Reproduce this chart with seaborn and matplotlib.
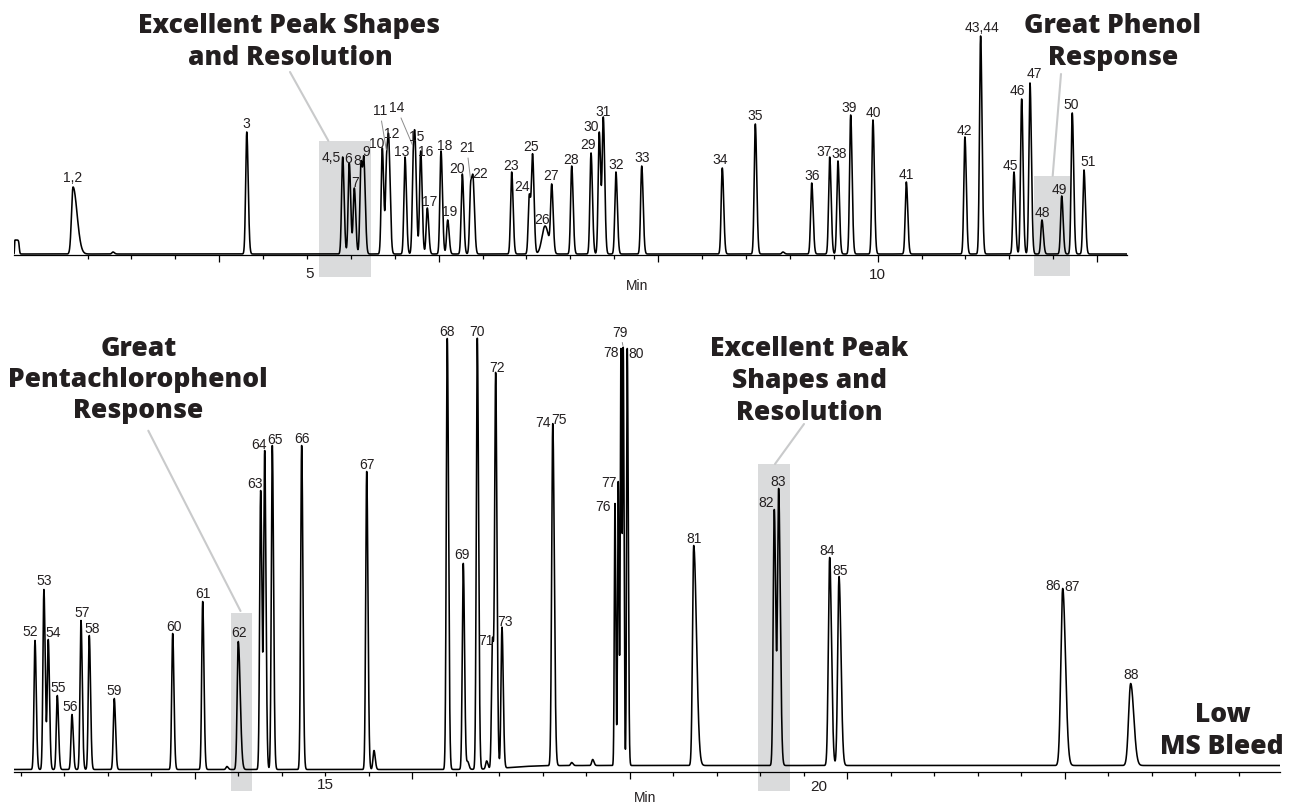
import numpy as np
import pandas as pd
import matplotlib.pyplot as plt
import seaborn as sns
from matplotlib.lines import Line2D
from matplotlib.patches import Rectangle

# ---- data: peaks of the first segment (retention time in min, apex height) ----
top_names = ['1,2', '3', '4,5', '6', '7', '8', '9', '10', '11', '12', '13', '14', '15', '16',
             '17', '18', '19', '20', '21', '22', '23', '24', '25', '26', '27', '28', '29', '30',
             '31', '32', '33', '34', '35', '36', '37', '38', '39', '40', '41', '42', '43,44',
             '45', '46', '47', '48', '49', '50', '51', '', '']
top_rt = [2.668, 4.251, 5.125, 5.185, 5.231, 5.292, 5.319, 5.486, 5.526, 5.547, 5.693, 5.769,
          5.787, 5.836, 5.896, 6.021, 6.082, 6.215, 6.292, 6.315, 6.665, 6.826, 6.856, 6.969,
          7.030, 7.212, 7.388, 7.463, 7.500, 7.615, 7.850, 8.584, 8.885, 9.399, 9.563, 9.638,
          9.754, 9.957, 10.261, 10.795, 10.938, 11.242, 11.312, 11.388, 11.497, 11.677, 11.773,
          11.880, 3.032, 9.137]
top_height = [67, 122, 97, 91, 66, 93, 96, 106, 102, 113, 97, 107, 112, 103, 46, 103, 34, 80,
              73, 75, 82, 60, 100, 28, 70, 88, 101, 122, 137, 82, 88, 86, 130, 71, 97, 93, 139,
              134, 72, 117, 218, 82, 155, 171, 34, 58, 141, 84, 2, 2]

# ---- data: peaks of the second segment ----
bot_names = ['52', '53', '54', '55', '56', '57', '58', '59', '60', '61', '62', '63', '64', '65',
             '66', '67', '68', '69', '70', '71', '72', '73', '74,75', '76', '77', '78', '79',
             '80', '81', '82', '83', '84', '85', '86,87', '88', '', '', '', '', '', '']
bot_rt = [12.529, 12.611, 12.651, 12.734, 12.869, 12.952, 13.028, 13.258, 13.795, 14.071,
          14.398, 14.604, 14.641, 14.711, 14.981, 15.579, 16.320, 16.467, 16.596, 16.736,
          16.765, 16.823, 17.290, 17.862, 17.892, 17.917, 17.938, 17.975, 18.586,
          19.327, 19.367, 19.836, 19.922, 21.979, 22.604,
          14.294, 15.646, 16.508, 16.682, 17.464, 17.657]
bot_height = [129, 180, 130, 74, 55, 149, 134, 71, 136, 168, 128, 279, 319, 324, 324, 298,
              431, 206, 431, 131, 396, 141, 342, 262, 284, 417, 418, 417, 220, 256, 277,
              208, 189, 177, 82, 3, 19, 8, 8, 3, 6]

# peak widths (sigma, min) and tailing, where they differ from the default
top_shape = {'1,2': (0.014, 2.6), '26': (0.028, 1.2)}
bot_shape = {'62': (0.010, 1.8), '76': (0.006, 1.2), '77': (0.006, 1.2), '78': (0.006, 1.2),
             '79': (0.006, 1.2), '80': (0.006, 1.5), '81': (0.011, 2.3), '82': (0.010, 1.3),
             '83': (0.010, 1.5), '84': (0.012, 1.4), '85': (0.012, 1.5), '86,87': (0.017, 1.5),
             '88': (0.019, 1.5), '74,75': (0.010, 1.4)}

# label offsets in pixels (dx, gap above apex); default is centred, 4 px above
top_off = {'1,2': (0, 6), '3': (0, 5), '4,5': (-11, -4), '6': (-1, 1), '7': (1, 2),
           '8': (-4, -3), '9': (2, 3), '10': (-6, 1), '11': (-7, 38), '12': (3, 4),
           '13': (-3, 2), '14': (-17, 36), '15': (1, 2), '16': (5, -4), '17': (2, 3),
           '18': (4, 2), '19': (2, 5), '20': (-5, 2), '21': (-4, 30), '22': (7, 2),
           '23': (-1, 3), '24': (-7, 4), '25': (-2, 4), '26': (-3, 3), '27': (-1, 5),
           '28': (-1, 3), '29': (-3, 5), '30': (-8, 2), '31': (0, 2), '33': (0, 5),
           '34': (-2, 5), '35': (0, 5), '37': (-6, 2), '38': (1, 4), '39': (-2, 4),
           '42': (0, 3), '43,44': (1, 5), '45': (-4, 3), '46': (-4, 5), '47': (4, 6),
           '49': (-2, 3), '50': (-1, 5), '51': (4, 5)}
bot_off = {'52': (-5, 5), '53': (0, 5), '54': (5, 3), '55': (1, 4), '56': (-2, 4), '57': (1, 4),
           '58': (3, 3), '60': (1, 3), '62': (1, 5), '63': (-6, 3), '64': (-6, 2), '65': (3, 2),
           '66': (0, 3), '67': (0, 3), '68': (0, 3), '69': (-1, 5), '70': (0, 3), '71': (-7, -6),
           '72': (1, 2), '73': (3, 2), '76': (-12, -6),
           '77': (-9, -4), '78': (-10, -7), '79': (-3, 12), '80': (9, -8), '82': (-8, 4),
           '83': (-1, 4), '84': (-3, 4), '85': (1, 3), '88': (0, 5)}
bot_split = {'86,87': [('86', -10, -1), ('87', 9, -2)],
             '74,75': [('74', -10, -2), ('75', 6, 1)]}
leaders = {'11', '14', '21', '79'}

W, H = 1289, 804
sns.set_theme(style='white')
plt.rcParams['font.family'] = ['Liberation Sans Narrow', 'Liberation Sans', 'DejaVu Sans']
HEAD = ['Open Sans', 'DejaVu Sans']
INK = '#231f20'
BOX = '#dadbdc'
LEAD = '#c9cacb'


def shape(t, rt, sig, tail):
    s = np.where(t < rt, sig, sig * tail)
    return np.exp(-0.5 * ((t - rt) / s) ** 2)


def chromatogram(t, names, rt, height, widths, sig0, tail0):
    rt = np.array(rt, float)
    h = np.array(height, float)
    sig = np.array([widths.get(n, (sig0, tail0))[0] for n in names])
    tail = np.array([widths.get(n, (sig0, tail0))[1] for n in names])
    A = np.array([[shape(ti, rj, sj, kj) for rj, sj, kj in zip(rt, sig, tail)] for ti in rt])
    amp = h.copy()
    for _ in range(300):
        amp = np.clip(amp + 0.5 * (h - A @ amp), 0, None)
    y = np.zeros_like(t)
    for a, r, s, k in zip(amp, rt, sig, tail):
        y += a * shape(t, r, s, k)
    return y


def sigm(x):
    return 1 / (1 + np.exp(-x))


def label_peaks(ax, names, rt, height, base, offsets, split):
    for n, r, h in zip(names, rt, height):
        if not n:
            continue
        y0 = base(np.array([r]))[0] + h
        items = split.get(n, [(n,) + offsets.get(n, (0, 4))])
        for txt, dx, dy in items:
            kw = {}
            if txt in leaders:
                kw['arrowprops'] = dict(arrowstyle='-', color='#8c8c8c', lw=0.7,
                                        shrinkA=0.5, shrinkB=1.5)
            ax.annotate(txt, xy=(r, y0), xytext=(dx * 0.72, dy * 0.72),
                        textcoords='offset points', ha='center', va='baseline',
                        fontsize=10, color=INK, zorder=4, annotation_clip=False, **kw)


def style_axis(ax, t0, t1, ymax, minor, major):
    ax.set_xlim(t0, t1)
    ax.set_ylim(0, ymax)
    ax.set_facecolor('none')
    for s in ['top', 'left', 'right']:
        ax.spines[s].set_visible(False)
    ax.spines['bottom'].set_color('black')
    ax.spines['bottom'].set_linewidth(0.9)
    ax.set_yticks([])
    ax.set_xticks(major)
    ax.set_xticks(minor, minor=True)
    ax.tick_params(axis='x', which='major', length=5, width=0.9, direction='out',
                   labelbottom=False, color='black', bottom=True)
    ax.tick_params(axis='x', which='minor', length=3, width=0.9, direction='out',
                   color='black', bottom=True)
    ax.set_xlabel('')
    ax.set_ylabel('')


def ftext(x, y, s, **kw):
    fig.text(x / W, 1 - y / H, s, **kw)


def fline(x0, y0, x1, y1, color=LEAD, lw=1.5):
    fig.add_artist(Line2D([x0 / W, x1 / W], [1 - y0 / H, 1 - y1 / H], color=color,
                          lw=lw, transform=fig.transFigure, zorder=1))


fig = plt.figure(figsize=(W / 100, H / 100), dpi=100)

# ---------------- first segment ----------------
ax1 = fig.add_axes([14 / W, (H - 256) / H, 1113 / W, 230 / H])
t0, t1 = 2.130, 12.272
t = np.linspace(t0, t1, 30000)
base1 = lambda x: 1.0 + 14 * sigm((x - 2.134) / 0.001) * sigm((2.178 - x) / 0.003)
y1 = base1(t) + chromatogram(t, top_names, top_rt, top_height, top_shape, 0.010, 1.3)
sns.lineplot(x=t, y=y1, ax=ax1, color='black', linewidth=1.15, estimator=None, sort=False,
             zorder=3)
style_axis(ax1, t0, t1, 230, np.round(np.arange(2.8, 12.01, 0.4), 2), [4, 6, 8, 10, 12])
ax1.add_patch(Rectangle((4.91, -22), 0.47, 136, color=BOX, lw=0, zorder=0, clip_on=False))
ax1.add_patch(Rectangle((11.42, -21), 0.33, 100, color=BOX, lw=0, zorder=0, clip_on=False))
label_peaks(ax1, top_names, top_rt, top_height, base1, top_off, {})

# ---------------- second segment ----------------
ax2 = fig.add_axes([14 / W, (H - 772.5) / H, 1266 / W, 460 / H])
t0, t1 = 12.336, 23.977
t = np.linspace(t0, t1, 36000)
base2 = lambda x: 2.0 + 4.0 * sigm((x - 16.9) / 0.12)
y2 = base2(t) + chromatogram(t, bot_names, bot_rt, bot_height, bot_shape, 0.009, 1.3)
sns.lineplot(x=t, y=y2, ax=ax2, color='black', linewidth=1.15, estimator=None, sort=False,
             zorder=3)
style_axis(ax2, t0, t1, 460, np.round(np.arange(12.4, 23.61, 0.4), 2), [14, 16, 18, 20, 22])
ax2.add_patch(Rectangle((14.33, -19.5), 0.19, 178, color=BOX, lw=0, zorder=0, clip_on=False))
ax2.add_patch(Rectangle((19.18, -19.5), 0.29, 327, color=BOX, lw=0, zorder=0, clip_on=False))
label_peaks(ax2, bot_names, bot_rt, bot_height, base2, bot_off, bot_split)

# axis labels
for x, y, s in [(310, 278, '5'), (877.7, 279, '10'), (325, 789, '15'), (819, 791, '20')]:
    ftext(x, y, s, ha='center', va='baseline', fontsize=11, color=INK,
          family=['Liberation Sans', 'DejaVu Sans'])
for x, y in [(637.5, 290), (645, 802)]:
    ftext(x, y, 'Min', ha='center', va='baseline', fontsize=10, color=INK,
          family=['Liberation Sans', 'DejaVu Sans'])

# callouts
heads = [(288.5, 33, 'Excellent Peak Shapes'), (290, 65, 'and Resolution'),
         (1113, 33, 'Great Phenol'), (1113, 65, 'Response'),
         (139, 356, 'Great'), (138, 387, 'Pentachlorophenol'), (138, 418, 'Response'),
         (809.5, 356, 'Excellent Peak'), (809.5, 388, 'Shapes and'), (809.5, 420, 'Resolution'),
         (1223, 722, 'Low'), (1222, 754, 'MS Bleed')]
for x, y, s in heads:
    ftext(x, y, s, ha='center', va='baseline', fontsize=19, fontweight=800, color=INK,
          family=HEAD)

fline(290, 73, 328.3, 141.7)
fline(1061, 75, 1052.7, 176.7)
fline(148.3, 431.7, 240.5, 612)
fline(804, 425, 775, 465)

fig.savefig('out.png', dpi=100)
